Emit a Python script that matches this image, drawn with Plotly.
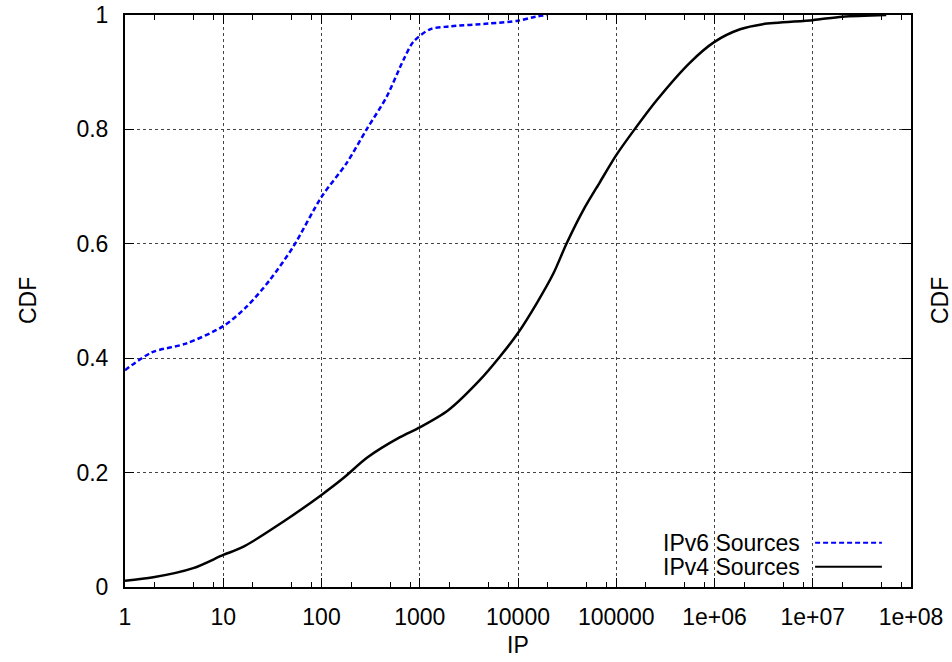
import plotly.graph_objects as go

# IPv6 sources CDF
ipv6_x = [1, 1.87, 4.25, 10, 17.3, 29.9, 51.6, 100, 180, 288, 460, 680, 860, 1270, 2000, 5000, 10000, 15000, 20000]
ipv6_y = [0.379, 0.410, 0.426, 0.456, 0.490, 0.537, 0.595, 0.682, 0.741, 0.800, 0.857, 0.921, 0.953, 0.975, 0.980, 0.985, 0.990, 0.997, 1.0]

# IPv4 sources CDF
ipv4_x = [1, 1.94, 4.95, 10, 15.9, 40.7, 100, 166, 290, 630, 1000, 1950, 4100, 6560, 10000, 15500, 22900,
          31300, 46200, 68300, 100000, 149000, 258000, 557000, 1e6, 1.82e6, 3.1e6, 1e7, 2e7, 5.6e7]
ipv4_y = [0.011, 0.017, 0.033, 0.056, 0.070, 0.114, 0.161, 0.190, 0.226, 0.262, 0.279, 0.309, 0.362, 0.403, 0.444,
          0.496, 0.548, 0.601, 0.659, 0.708, 0.755, 0.797, 0.851, 0.916, 0.953, 0.975, 0.984, 0.991, 0.997, 1.0]

x_tickvals = [1, 10, 100, 1000, 10000, 100000, 1e6, 1e7, 1e8]
x_ticktext = ["1", "10", "100", "1000", "10000", "100000", "1e+06", "1e+07", "1e+08"]
y_tickvals = [0, 0.2, 0.4, 0.6, 0.8, 1.0]
y_ticktext = ["0", "0.2", "0.4", "0.6", "0.8", "1"]
x_minor = [m * 10 ** d for d in range(8) for m in (2, 5, 8)]

FONT = "Liberation Sans, Arial, sans-serif"

fig = go.Figure()
fig.add_trace(go.Scatter(x=ipv6_x, y=ipv6_y, mode="lines", name="IPv6 Sources",
                         line=dict(color="#0000ff", width=2.5, dash="5px,3px", shape="spline", smoothing=0.8),
                         showlegend=False))
fig.add_trace(go.Scatter(x=ipv4_x, y=ipv4_y, mode="lines", name="IPv4 Sources",
                         line=dict(color="#000000", width=2.5, shape="spline", smoothing=0.8),
                         showlegend=False))

grid = dict(showgrid=True, gridcolor="#444444", griddash="dot", gridwidth=1)

fig.update_layout(
    width=952, height=662,
    margin=dict(l=125, r=41, t=15, b=75, autoexpand=False),
    paper_bgcolor="white", plot_bgcolor="white",
    font=dict(family=FONT, size=23, color="black"),
    xaxis=dict(type="log", range=[0, 8], tickmode="array", tickvals=x_tickvals, ticktext=x_ticktext,
               ticks="inside", ticklen=9, tickwidth=1, tickcolor="black", automargin=False,
               showline=True, linecolor="black", linewidth=2, mirror="allticks",
               ticklabelstandoff=8, zeroline=False,
               minor=dict(tickmode="array", tickvals=x_minor, ticks="inside", ticklen=5,
                          tickcolor="black", showgrid=False),
               **grid),
    yaxis=dict(range=[0, 1], tickmode="array", tickvals=y_tickvals, ticktext=y_ticktext,
               ticks="inside", ticklen=9, tickwidth=1, tickcolor="black", automargin=False,
               showline=True, linecolor="black", linewidth=2, mirror="allticks",
               ticklabelstandoff=10, zeroline=False,
               **grid),
)

anns = [
    dict(text="IP", x=0.5, y=0, xref="paper", yref="paper", xanchor="center", yanchor="middle",
         yshift=-58, showarrow=False),
    dict(text="CDF", x=0, y=0.5, xref="paper", yref="paper", xanchor="center", yanchor="middle",
         xshift=-97, textangle=-90, showarrow=False),
    dict(text="CDF", x=1, y=0.5, xref="paper", yref="paper", xanchor="center", yanchor="middle",
         xshift=29, textangle=-90, showarrow=False),
]
# gnuplot-style key: text right-aligned, sample line to its right
key = [("IPv6 Sources", 0.0775, dict(color="#0000ff", width=2, dash="5px,3px")),
       ("IPv4 Sources", 0.0355, dict(color="#000000", width=2))]
for label, ky, ln in key:
    anns.append(dict(text=label, x=0.861, y=ky, xref="paper", yref="paper", xanchor="right",
                     yanchor="middle", showarrow=False))
    fig.add_shape(type="line", xref="paper", yref="paper", x0=0.878, x1=0.963, y0=ky, y1=ky, line=ln)

fig.update_layout(annotations=anns)
fig.write_html("out.html")
